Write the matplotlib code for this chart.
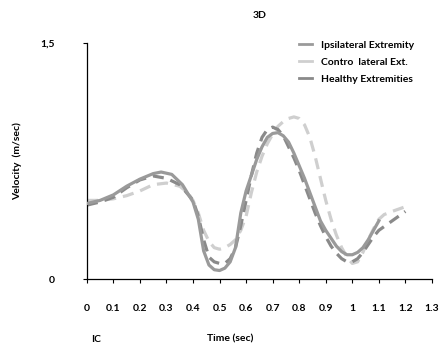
import matplotlib; matplotlib.use("Agg")
import matplotlib.pyplot as plt

plt.rcParams["font.family"] = ["Lato", "DejaVu Sans"]

# Ipsilateral extremity (solid)
t_ipsi = [0, 0.05, 0.1, 0.15, 0.2, 0.25, 0.28, 0.32, 0.36, 0.4, 0.42, 0.44, 0.46, 0.48,
          0.5, 0.52, 0.54, 0.56, 0.58, 0.6, 0.62, 0.64, 0.66, 0.68, 0.7, 0.72, 0.74,
          0.76, 0.78, 0.8, 0.82, 0.84, 0.86, 0.88, 0.9, 0.92, 0.94, 0.96, 0.98, 1.0,
          1.02, 1.04, 1.06, 1.08, 1.1]
v_ipsi = [0.48, 0.50, 0.535, 0.59, 0.635, 0.67, 0.68, 0.665, 0.60, 0.49, 0.38, 0.18, 0.09, 0.06,
          0.055, 0.07, 0.11, 0.20, 0.42, 0.56, 0.66, 0.76, 0.84, 0.90, 0.925, 0.93, 0.91,
          0.87, 0.80, 0.72, 0.64, 0.55, 0.46, 0.37, 0.31, 0.26, 0.21, 0.175, 0.155, 0.155,
          0.17, 0.20, 0.25, 0.31, 0.37]

# Contralateral (light dashed)
t_contra = [0, 0.05, 0.1, 0.15, 0.2, 0.25, 0.3, 0.35, 0.38, 0.4, 0.42, 0.44, 0.46, 0.48,
            0.5, 0.52, 0.54, 0.56, 0.58, 0.6, 0.62, 0.64, 0.66, 0.68, 0.7, 0.72, 0.74,
            0.76, 0.78, 0.8, 0.82, 0.84, 0.86, 0.88, 0.9, 0.92, 0.94, 0.96, 0.98, 1.0,
            1.02, 1.04, 1.06, 1.08, 1.1, 1.12, 1.15, 1.2]
v_contra = [0.50, 0.50, 0.51, 0.53, 0.56, 0.60, 0.61, 0.59, 0.55, 0.50, 0.42, 0.31, 0.24, 0.20,
            0.19, 0.20, 0.22, 0.25, 0.31, 0.40, 0.55, 0.68, 0.78, 0.86, 0.92, 0.97, 1.00,
            1.02, 1.03, 1.02, 0.98, 0.90, 0.78, 0.64, 0.50, 0.38, 0.28, 0.20, 0.14, 0.10,
            0.11, 0.17, 0.25, 0.32, 0.38, 0.41, 0.43, 0.46]

# Healthy extremities (dark dashed)
t_healthy = [0, 0.05, 0.1, 0.15, 0.2, 0.25, 0.3, 0.35, 0.4, 0.42, 0.44, 0.46, 0.48,
             0.5, 0.52, 0.54, 0.56, 0.58, 0.6, 0.62, 0.64, 0.66, 0.68, 0.7, 0.72, 0.74,
             0.76, 0.78, 0.8, 0.82, 0.84, 0.86, 0.88, 0.9, 0.92, 0.94, 0.96, 0.98, 1.0,
             1.02, 1.04, 1.06, 1.08, 1.1, 1.15, 1.2]
v_healthy = [0.47, 0.49, 0.52, 0.58, 0.63, 0.655, 0.64, 0.60, 0.50, 0.40, 0.25, 0.14, 0.11,
             0.10, 0.10, 0.13, 0.20, 0.34, 0.50, 0.66, 0.80, 0.90, 0.95, 0.965, 0.95, 0.91,
             0.84, 0.77, 0.69, 0.60, 0.51, 0.42, 0.34, 0.27, 0.21, 0.165, 0.13, 0.11, 0.11,
             0.13, 0.17, 0.22, 0.27, 0.31, 0.37, 0.43]

x_ticks = [0, 0.1, 0.2, 0.3, 0.4, 0.5, 0.6, 0.7, 0.8, 0.9, 1.0, 1.1, 1.2, 1.3]
x_labels = ["0", "0.1", "0.2", "0.3", "0.4", "0.5", "0.6", "0.7", "0.8", "0.9", "1", "1.1", "1.2", "1.3"]
y_ticks = [0, 1.5]
y_labels = ["0", "1,5"]

fig = plt.figure(figsize=(4.43, 3.57), dpi=100)
ax = fig.add_axes([0.196, 0.218, 0.779, 0.662])

ax.plot(t_ipsi, v_ipsi, color="#9a9a9a", lw=2.3, label="Ipsilateral Extremity", zorder=3)
ax.plot(t_contra, v_contra, color="#cfcfcf", lw=2.3, dashes=(3.5, 2.2), label="Contro  lateral Ext.", zorder=2)
ax.plot(t_healthy, v_healthy, color="#8a8a8a", lw=2.3, dashes=(3.5, 2.2), label="Healthy Extremities", zorder=2)

ax.set_xlim(0, 1.3); ax.set_ylim(0, 1.5)
for s in ["top", "right"]: ax.spines[s].set_visible(False)
ax.spines["left"].set_linewidth(0.9); ax.spines["bottom"].set_linewidth(0.9)
ax.set_xticks(x_ticks); ax.set_xticklabels(x_labels, fontsize=7.5, fontweight="bold")
ax.set_yticks(y_ticks); ax.set_yticklabels(y_labels, fontsize=7.5, fontweight="bold")
ax.tick_params(axis="x", length=3, width=0.8, pad=15)
ax.tick_params(axis="y", length=3, width=0.8, pad=20)

ax.set_title("3D", fontsize=7.5, fontweight="bold", pad=18)
fig.text(0.04, 0.55, "Velocity  (m/sec)", rotation=90, fontsize=7.5, fontweight="bold", ha="center", va="center")
fig.text(0.205, 0.05, "IC", fontsize=7.5, fontweight="bold", ha="left", va="center")
fig.text(0.52, 0.05, "Time (sec)", fontsize=7.5, fontweight="bold", ha="center", va="center")

leg = ax.legend(loc="upper left", bbox_to_anchor=(0.615, 1.01), frameon=False, fontsize=7.5,
                handlelength=1.2, handletextpad=0.9, borderpad=0, borderaxespad=0, labelspacing=0.75)
for txt in leg.get_texts(): txt.set_fontweight("bold")
for h in leg.get_lines(): h.set_linestyle("-"); h.set_linewidth(2)

fig.savefig("out.png", dpi=100)
